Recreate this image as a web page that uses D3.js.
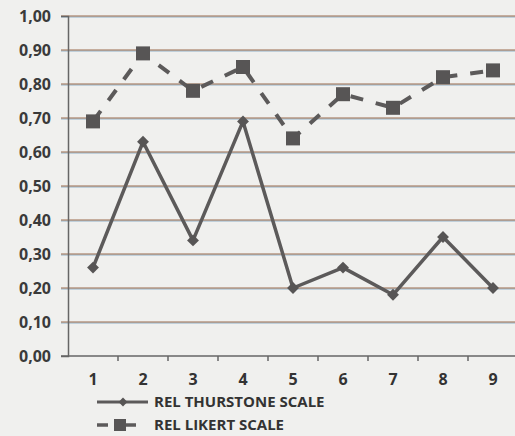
<!DOCTYPE html>
<html>
<head>
<meta charset="utf-8">
<script src="https://cdn.jsdelivr.net/npm/d3@7"></script>
<style>
  body { margin: 0; background: #f0f0ee; }
  svg { display: block; }
  text { font-family: "Open Sans", sans-serif; fill: #333; }
</style>
</head>
<body>
<svg width="515" height="436"></svg>
<script>
const categories = ['1', '2', '3', '4', '5', '6', '7', '8', '9'];
const thurstone = [0.26, 0.63, 0.34, 0.69, 0.20, 0.26, 0.18, 0.35, 0.20];
const likert = [0.69, 0.89, 0.78, 0.85, 0.64, 0.77, 0.73, 0.82, 0.84];
const yTicks = [0, 0.1, 0.2, 0.3, 0.4, 0.5, 0.6, 0.7, 0.8, 0.9, 1.0];
const seriesNames = ['REL THURSTONE SCALE', 'REL LIKERT SCALE'];

const svg = d3.select('svg');
const margin = {left: 68, top: 16, bottom: 80};
const plotRight = 518;
const plotBottom = 356;

const x = d3.scaleBand()
    .domain(categories)
    .range([margin.left, plotRight]);

const y = d3.scaleLinear()
    .domain([0, 1])
    .range([plotBottom, margin.top]);

const fmt = d => d3.format('.2f')(d).replace('.', ',');

// gridlines (scan-ish brown with faint blue shadow)
const grid = svg.append('g');
grid.selectAll('line.b')
  .data(yTicks.slice(1))
  .enter().append('line')
    .attr('x1', 61).attr('x2', 515)
    .attr('y1', d => y(d) + 1).attr('y2', d => y(d) + 1)
    .attr('stroke', '#8fb0c8').attr('stroke-width', 1);
grid.selectAll('line.g')
  .data(yTicks.slice(1))
  .enter().append('line')
    .attr('x1', 61).attr('x2', 515)
    .attr('y1', d => y(d)).attr('y2', d => y(d))
    .attr('stroke', '#9a6a4c').attr('stroke-width', 1.2);

// y axis
const yAxis = svg.append('g')
    .attr('transform', `translate(${margin.left},0)`)
    .call(d3.axisLeft(y).tickValues(yTicks).tickFormat(fmt).tickSize(7));
yAxis.select('.domain').attr('stroke', '#666').attr('stroke-width', 1.5);
yAxis.selectAll('.tick line').attr('stroke', 'none');
yAxis.selectAll('.tick text')
    .attr('x', -17)
    .style('font-size', '16px').style('font-weight', 700)
    .style('fill', '#3a3a3a');

// x axis with ticks between categories
const xAxis = svg.append('g')
    .attr('transform', `translate(0,${plotBottom})`);
xAxis.append('line')
    .attr('x1', 61).attr('x2', 515)
    .attr('stroke', '#666').attr('stroke-width', 1.5);
xAxis.selectAll('line.tk')
  .data(categories)
  .enter().append('line')
    .attr('x1', d => x(d) + x.bandwidth()).attr('x2', d => x(d) + x.bandwidth())
    .attr('y1', 0).attr('y2', 5)
    .attr('stroke', '#666').attr('stroke-width', 1.5);
xAxis.selectAll('text')
  .data(categories)
  .enter().append('text')
    .attr('x', d => x(d) + x.bandwidth() / 2)
    .attr('y', 29)
    .attr('text-anchor', 'middle')
    .style('font-size', '16px').style('font-weight', 700)
    .text(d => d);

const cx = d => x(d) + x.bandwidth() / 2;
const line = d3.line()
    .x((d, i) => cx(categories[i]))
    .y(d => y(d));

const lineColor = '#5c5a5a';

// likert - dashed with squares
svg.append('path')
    .datum(likert)
    .attr('d', line)
    .attr('fill', 'none')
    .attr('stroke', lineColor)
    .attr('stroke-width', 4)
    .attr('stroke-dasharray', '13,13');
svg.selectAll('rect.lk')
  .data(likert)
  .enter().append('rect')
    .attr('x', (d, i) => cx(categories[i]) - 7)
    .attr('y', d => y(d) - 7)
    .attr('width', 14).attr('height', 14)
    .attr('fill', '#575555');

// thurstone - solid with diamonds
svg.append('path')
    .datum(thurstone)
    .attr('d', line)
    .attr('fill', 'none')
    .attr('stroke', lineColor)
    .attr('stroke-width', 3.5)
    .attr('stroke-linejoin', 'round');
const diamond = d3.symbol().type(d3.symbolDiamond2).size(90);
svg.selectAll('path.th')
  .data(thurstone)
  .enter().append('path')
    .attr('d', diamond)
    .attr('transform', (d, i) => `translate(${cx(categories[i])},${y(d)})`)
    .attr('fill', '#575555');

// legend
const legend = svg.append('g');
legend.append('line')
    .attr('x1', 97).attr('x2', 148).attr('y1', 402).attr('y2', 402)
    .attr('stroke', lineColor).attr('stroke-width', 3);
legend.append('path')
    .attr('d', d3.symbol().type(d3.symbolDiamond2).size(50))
    .attr('transform', 'translate(123,402)')
    .attr('fill', '#575555');
legend.append('text')
    .attr('x', 154).attr('y', 407)
    .style('font-size', '15px').style('font-weight', 700)
    .text(seriesNames[0]);

legend.append('line')
    .attr('x1', 97).attr('x2', 108).attr('y1', 425).attr('y2', 425)
    .attr('stroke', lineColor).attr('stroke-width', 3.5);
legend.append('line')
    .attr('x1', 126).attr('x2', 136).attr('y1', 425).attr('y2', 425)
    .attr('stroke', lineColor).attr('stroke-width', 3.5);
legend.append('rect')
    .attr('x', 114).attr('y', 419).attr('width', 12).attr('height', 12)
    .attr('fill', '#575555');
legend.append('text')
    .attr('x', 154).attr('y', 430)
    .style('font-size', '15px').style('font-weight', 700)
    .text(seriesNames[1]);
</script>
</body>
</html>
